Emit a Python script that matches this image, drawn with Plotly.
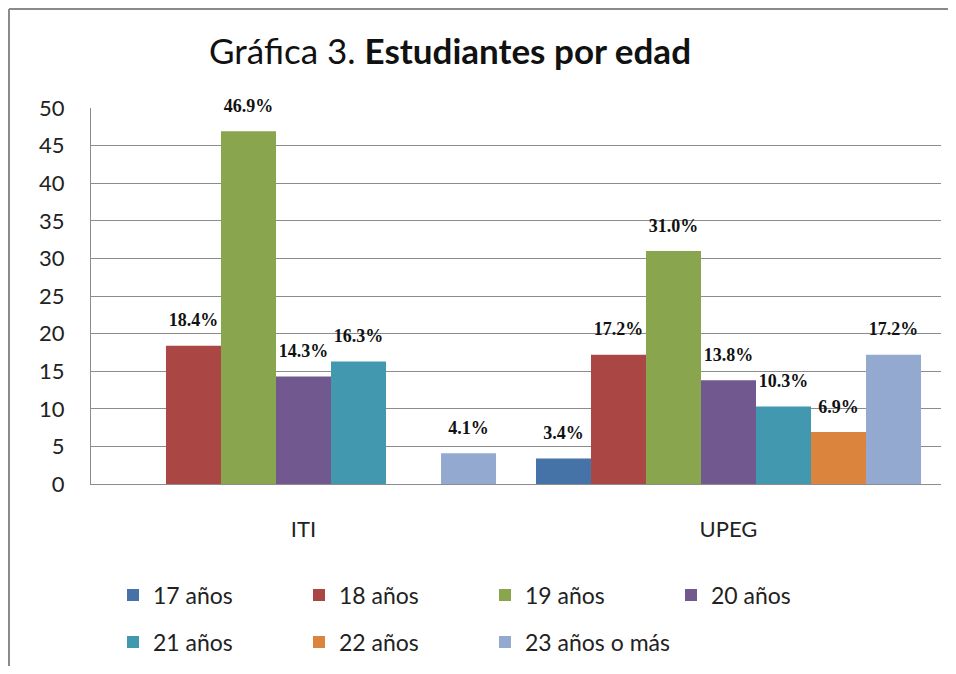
import plotly.graph_objects as go

# categories and series (percent of students by age)
categorias = ['ITI', 'UPEG']
series = ['17 años', '18 años', '19 años', '20 años', '21 años', '22 años', '23 años o más']
valores = {
    '17 años': [None, 3.4],
    '18 años': [18.4, 17.2],
    '19 años': [46.9, 31.0],
    '20 años': [14.3, 13.8],
    '21 años': [16.3, 10.3],
    '22 años': [None, 6.9],
    '23 años o más': [4.1, 17.2],
}
colores = ['#4572A7', '#AA4643', '#89A54E', '#71588F', '#4198AF', '#DB843D', '#93A9CF']

# page body has an 8px margin, so the figure is a bit smaller than the window
W, H = 940, 658
L, R, T, B = 83, 7, 100, 182
pw, ph = W - L - R, H - T - B
GAP = 0.094

fig = go.Figure()
for i, (nombre, color) in enumerate(zip(series, colores)):
    ys = valores[nombre]
    fig.add_trace(go.Bar(
        x=categorias, y=ys, name=nombre,
        marker=dict(color=color, line=dict(width=0)),
        legend='legend' if i < 4 else 'legend2',
    ))
# data labels, grouped the same way as the bars
for i, nombre in enumerate(series):
    ys = valores[nombre]
    fig.add_trace(go.Scatter(
        x=categorias, y=ys, mode='markers+text', showlegend=False, hoverinfo='skip',
        marker=dict(size=22, opacity=0),
        text=['' if v is None else '%.1f%%' % v for v in ys],
        textposition='top center', cliponaxis=False,
        textfont=dict(family='Liberation Serif', size=18, color='#111111', weight='bold'),
    ))

leyenda = dict(orientation='h', xanchor='left', yanchor='middle',
               font=dict(family='Lato', size=23, color='#222222'),
               entrywidth=141, entrywidthmode='pixels', bgcolor='rgba(0,0,0,0)')

fig.update_layout(
    width=W, height=H,
    margin=dict(l=L, r=R, t=T, b=B, autoexpand=False),
    paper_bgcolor='white', plot_bgcolor='white',
    barmode='group', bargap=GAP, bargroupgap=0,
    scattermode='group', scattergap=GAP,
    title=dict(text='Gráfica 3. <b>Estudiantes por edad</b>', x=442 / W, xref='container',
               xanchor='center', y=1 - 44 / H, yref='container', yanchor='middle',
               font=dict(family='Lato', size=35, color='#111111')),
    font=dict(family='Lato', color='#222222'),
    legend=dict(leyenda, x=(105 - L) / pw, y=(T + ph - 587) / ph),
    legend2=dict(leyenda, x=(105 - L) / pw, y=(T + ph - 634) / ph),
)
fig.update_yaxes(range=[0, 50], dtick=5, showgrid=True, gridcolor='#8c8c8c', gridwidth=1,
                 showline=True, linecolor='#8c8c8c', linewidth=1, zeroline=False,
                 tickfont=dict(family='Lato', size=22, color='#222222'),
                 ticks='', ticklabelstandoff=21)
fig.update_xaxes(showline=True, linecolor='#8c8c8c', linewidth=1,
                 tickfont=dict(family='Lato', size=22, color='#222222'),
                 ticks='', ticklabelstandoff=26)

# outer chart frame (top and left edges visible)
fig.add_shape(type='line', xref='paper', yref='paper',
              x0=(1 - L) / pw, x1=(W - L) / pw, y0=(T + ph - 1) / ph, y1=(T + ph - 1) / ph,
              line=dict(color='#8a8a8a', width=2))
fig.add_shape(type='line', xref='paper', yref='paper',
              x0=(1 - L) / pw, x1=(1 - L) / pw, y0=(T + ph - 1) / ph, y1=-B / ph,
              line=dict(color='#8a8a8a', width=2))

fig.write_html('out.html')
